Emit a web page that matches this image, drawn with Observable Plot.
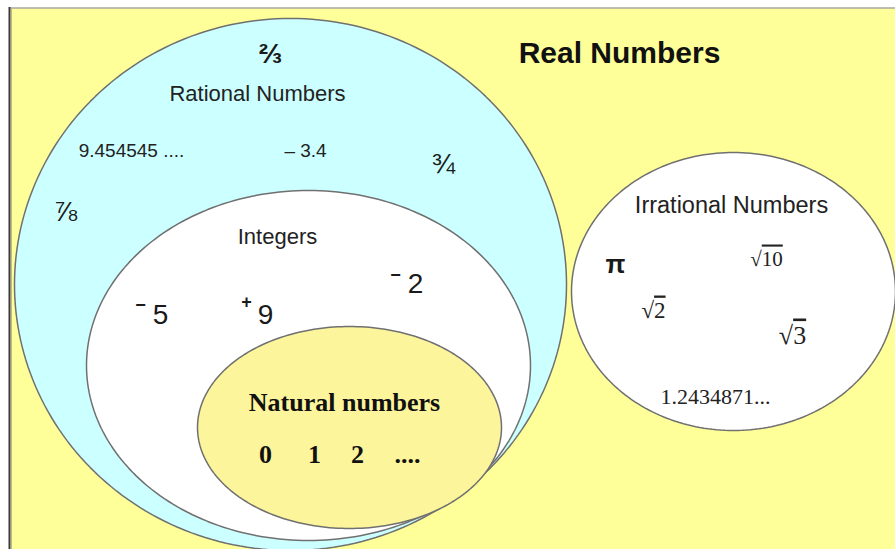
<!DOCTYPE html>
<html>
<head>
<meta charset="utf-8">
<script src="https://cdn.jsdelivr.net/npm/d3@7"></script>
<script src="https://cdn.jsdelivr.net/npm/@observablehq/plot@0.6"></script>
<style>
  html, body { margin: 0; padding: 0; background: #ffffff; }
  #chart svg { display: block; }
</style>
</head>
<body>
<div id="chart"></div>
<script>
// ---- Data ----
const setNames = ["Rational Numbers", "Integers", "Natural numbers", "Irrational Numbers"];
const setCx = [290, 308, 349, 733];
const setCy = [284, 365, 427, 291];
const setRx = [276, 222, 152, 162];
const setRy = [266, 175, 101, 139];
const setFills = ["#ccffff", "#ffffff", "#fcf59b", "#ffffff"];

const titleText = ["Real Numbers"];
const titleX = [619];
const titleY = [62];

const setLabelText = ["Rational Numbers", "Integers"];
const setLabelX = [257, 277];
const setLabelY = [100, 243];
const irrLabelText = ["Irrational Numbers"];
const irrLabelX = [731];
const irrLabelY = [212];

const rationalText = ["9.454545 ....", "– 3.4"];
const rationalX = [131, 305];
const rationalY = [156, 156];

const boldFractionText = ["⅔"];
const boldFractionX = [270];
const boldFractionY = [62];
const fractionText = ["¾", "⅞"];
const fractionX = [443, 65];
const fractionY = [172, 220];

const integerText = ["5", "9", "2"];
const integerX = [160, 265, 415];
const integerY = [323, 323, 292];
const signText = ["−", "+", "−"];
const signX = [140, 246, 395];
const signY = [305, 302, 275];

const naturalTitle = ["Natural numbers"];
const naturalTitleX = [344];
const naturalTitleY = [410];
const naturalText = ["0", "1", "2", "...."];
const naturalX = [265, 314, 357, 407];
const naturalY = [462, 462, 462, 462];

const piText = ["π"];
const piX = [615];
const piY = [272];
const radicandText = ["10", "2", "3"];
const radicalX = [766, 653, 792];
const radicalY = [265, 317, 343];
const radicalSize = [21, 23, 26];
const decimalText = ["1.2434871..."];
const decimalX = [715];
const decimalY = [403];

// ---- Build tables ----
const zip = (t, xs, ys) => t.map((text, i) => ({text, x: xs[i], y: ys[i]}));

function ellipsePoints(i) {
  const pts = [];
  const n = 240;
  for (let k = 0; k < n; k++) {
    const a = (2 * Math.PI * k) / n;
    pts.push({x: setCx[i] + setRx[i] * Math.cos(a), y: setCy[i] + setRy[i] * Math.sin(a)});
  }
  return pts;
}

const sans = "'Liberation Sans', Arial, Helvetica, sans-serif";
const serif = "'Liberation Serif', 'Times New Roman', serif";

function textMark(data, opts) {
  const fs = opts.fontSize;
  return Plot.text(data, {
    x: "x", y: "y", text: "text",
    textAnchor: "middle",
    dy: -0.32 * fs,
    ...opts
  });
}

const W = 895, H = 549;

const chart = Plot.plot({
  width: W,
  height: H,
  margin: 0,
  x: {domain: [0, W], range: [0, W], axis: null},
  y: {domain: [0, H], range: [0, H], axis: null},
  style: {background: "#ffffff"},
  marks: [
    // background panel
    Plot.rect([{x1: 10, x2: W, y1: 8, y2: H}], {x1: "x1", x2: "x2", y1: "y1", y2: "y2", fill: "#ffff99"}),
    Plot.ruleY([7.5], {x1: 9, x2: W, stroke: "#a8a8a0", strokeWidth: 1.5}),
    Plot.ruleX([9], {y1: 7, y2: H, stroke: "#3a3a3a", strokeWidth: 2}),
    Plot.ruleX([11], {y1: 8, y2: H, stroke: "#b8b89a", strokeWidth: 1}),
    // sets
    ...setNames.map((name, i) =>
      Plot.line(ellipsePoints(i), {
        x: "x", y: "y",
        curve: "linear-closed",
        fill: setFills[i],
        stroke: "#707070",
        strokeWidth: 1.5
      })
    ),
    // texts
    textMark(zip(titleText, titleX, titleY), {fontSize: 30, fontWeight: "bold", fontFamily: sans, fill: "#111"}),
    textMark(zip(setLabelText, setLabelX, setLabelY), {fontSize: 22, fontFamily: sans, fill: "#222"}),
    textMark(zip(irrLabelText, irrLabelX, irrLabelY), {fontSize: 23.5, fontFamily: sans, fill: "#222"}),
    textMark(zip(rationalText, rationalX, rationalY), {fontSize: 19, fontFamily: sans, fill: "#222"}),
    textMark(zip(boldFractionText, boldFractionX, boldFractionY), {fontSize: 28, fontWeight: "bold", fontFamily: sans, fill: "#1a1a1a"}),
    textMark(zip(fractionText, fractionX, fractionY), {fontSize: 28, fontFamily: sans, fill: "#1a1a1a"}),
    textMark(zip(integerText, integerX, integerY), {fontSize: 28, fontFamily: sans, fill: "#1a1a1a"}),
    Plot.text(zip(signText, signX, signY), {x: "x", y: "y", text: "text", fontSize: 18, fontWeight: "bold", fontFamily: sans, fill: "#1a1a1a"}),
    textMark(zip(naturalTitle, naturalTitleX, naturalTitleY), {fontSize: 26, fontWeight: "bold", fontFamily: serif, fill: "#111"}),
    textMark(zip(naturalText, naturalX, naturalY), {fontSize: 26, fontWeight: "bold", fontFamily: serif, fill: "#111"}),
    textMark(zip(piText, piX, piY), {fontSize: 26, fontWeight: "bold", fontFamily: sans, fill: "#1a1a1a"}),
    ...radicandText.map((t, i) =>
      textMark([{text: "√" + t, x: radicalX[i], y: radicalY[i]}], {
        fontSize: radicalSize[i], fontFamily: serif, fill: "#222", className: "radical"
      })
    ),
    textMark(zip(decimalText, decimalX, decimalY), {fontSize: 22, fontFamily: serif, fill: "#222"})
  ]
});

// put the vinculum over each radicand (overline on the digits)
chart.querySelectorAll("g.radical text").forEach(node => {
  const s = node.textContent;
  node.textContent = "√";
  const span = document.createElementNS("http://www.w3.org/2000/svg", "tspan");
  span.textContent = s.slice(1);
  span.setAttribute("style", "text-decoration: overline;");
  node.appendChild(span);
});

document.getElementById("chart").appendChild(chart);
</script>
</body>
</html>
